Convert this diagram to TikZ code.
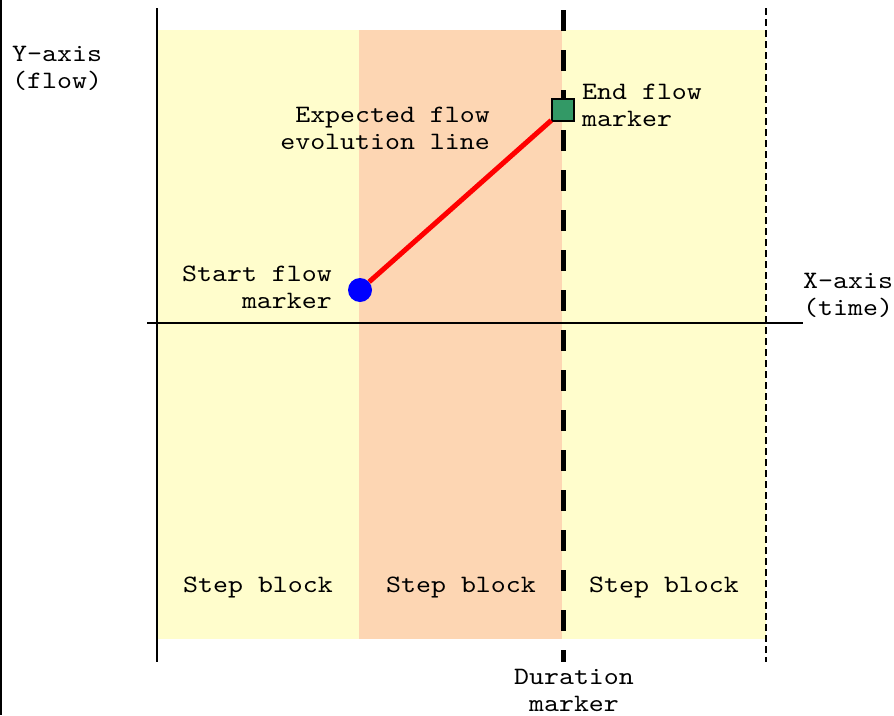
\documentclass[tikz,border=0pt]{standalone}
\usepackage{fontspec}
\setmainfont{lmmono10-regular.otf}[FakeStretch=1.14]
\definecolor{yel}{HTML}{FFFDCC}
\definecolor{peach}{HTML}{FDD6B3}
\definecolor{mgreen}{HTML}{339966}
\begin{document}
\begin{tikzpicture}[x=1pt,y=-1pt,
  lbl/.style={font=\fontsize{25}{27}\selectfont, inner sep=0pt},
  axis/.style={line width=2pt}]
\useasboundingbox (0,0) rectangle (894,715);
\fill[white] (0,0) rectangle (894,715);
% step blocks
\fill[yel] (157,30) rectangle (359,639);
\fill[peach] (359,30) rectangle (562,639);
\fill[yel] (562,30) rectangle (766,639);
% left border line
\draw[axis] (1,0) -- (1,715);
% axes
\draw[axis] (157,8) -- (157,662);
\draw[axis] (147,323) -- (803,323);
% block end (thin dashed)
\draw[axis, dash pattern=on 7pt off 4pt] (766,8) -- (766,662);
% duration marker (thick dashed)
\draw[line width=5pt, dash pattern=on 21pt off 19pt] (563,10) -- (563,662);
% markers
\node[circle, fill=blue, minimum size=24pt, inner sep=0pt] (start) at (360,290) {};
\node[rectangle, fill=mgreen, draw=black, line width=1.5pt, minimum size=22pt, inner sep=0pt] (end) at (563,110) {};
\draw[red, line width=5pt] (start) -- (end);
% labels
\node[lbl, anchor=west, align=left] (ylab) at (12,68) {Y-axis\\(flow)};
\node[lbl, anchor=west, align=left] (xlab) at (803,295) {X-axis\\(time)};
\node[lbl, anchor=east, align=right] (exp) at (490,128) {Expected flow\\evolution line};
\node[lbl, anchor=east, align=right] (slab) at (332,287) {Start flow\\marker};
\node[lbl, anchor=west, align=left] (elab) at (582,105) {End flow\\marker};
\node[lbl] (b1) at (258,587) {Step block};
\node[lbl] (b2) at (461,587) {Step block};
\node[lbl] (b3) at (664,587) {Step block};
\node[lbl, align=center] (dlab) at (574,690) {Duration\\marker};
\end{tikzpicture}
\end{document}
